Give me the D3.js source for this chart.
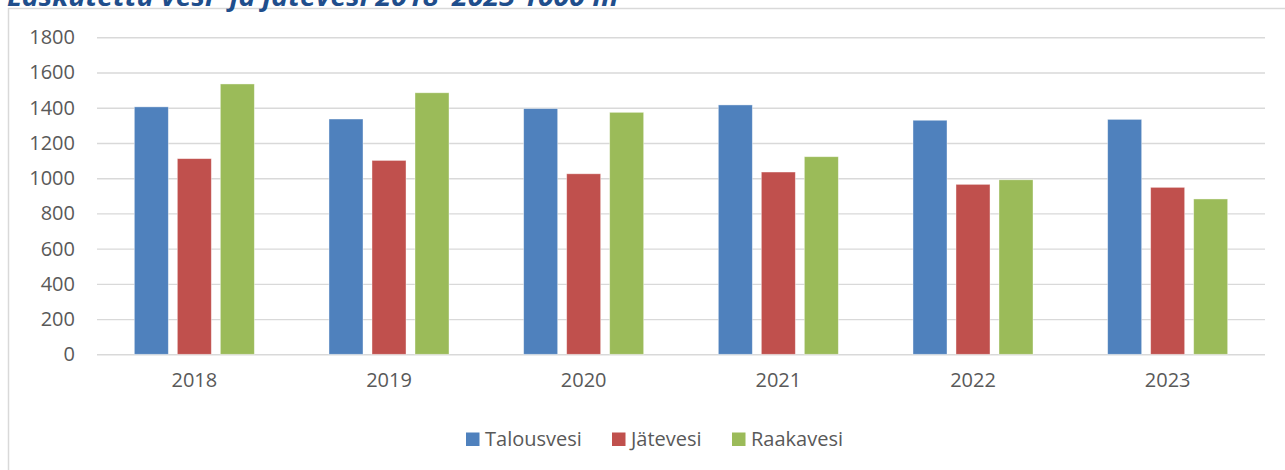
<!DOCTYPE html>
<html>
<head>
<meta charset="utf-8">
<script src="https://cdn.jsdelivr.net/npm/d3@7"></script>
<style>
  html, body { margin: 0; padding: 0; background: #fff; }
  svg { display: block; }
</style>
</head>
<body>
<svg id="chart" width="1285" height="470"></svg>
<script>
// data
const years = ["2018", "2019", "2020", "2021", "2022", "2023"];
const seriesNames = ["Talousvesi", "Jätevesi", "Raakavesi"];
const talousvesi = [1405, 1336, 1395, 1416, 1329, 1334];
const jatevesi   = [1111, 1101, 1025, 1035, 965, 948];
const raakavesi  = [1535, 1485, 1374, 1122, 991, 882];
const yTicks = [0, 200, 400, 600, 800, 1000, 1200, 1400, 1600, 1800];
const colors = ["#4F81BD", "#C0504D", "#9BBB59"];

const values = [talousvesi, jatevesi, raakavesi];
const rows = years.map((yr, i) => ({ year: yr, vals: seriesNames.map((s, k) => ({ key: s, k, v: values[k][i] })) }));

const W = 1285, H = 470;
const m = { top: 37.3, right: 20, bottom: 115.7, left: 97 };
const w = 1265 - m.left;
const h = 354.3 - m.top;

const svg = d3.select("#chart").attr("viewBox", `0 0 ${W} ${H}`);
const FONT = "'Open Sans', 'DejaVu Sans', sans-serif";

// chart frame (runs past the page edge like the source)
svg.append("rect")
    .attr("x", 8.5).attr("y", 8.5).attr("width", W + 20).attr("height", H + 20)
    .attr("fill", "#fff").attr("stroke", "#d9d9d9").attr("stroke-width", 1.5);

// title, mostly cut off at the top as in the source picture
svg.append("text")
    .attr("x", 7).attr("y", 6)
    .attr("fill", "#1F4E8C").attr("font-family", FONT)
    .attr("font-size", 26).attr("font-weight", "bold").attr("font-style", "italic")
    .attr("textLength", 622).attr("lengthAdjust", "spacingAndGlyphs")
    .text("Laskutettu vesi- ja jätevesi 2018–2023 1000 m³");

const g = svg.append("g").attr("transform", `translate(${m.left},${m.top})`);

const x = d3.scaleBand().domain(years).range([0, w]).padding(0);
const xs = d3.scaleBand().domain(seriesNames).range([0, x.bandwidth()])
    .paddingInner(0.209).paddingOuter(0.868);
const y = d3.scaleLinear().domain([0, 1800]).range([h, 0]);

// gridlines
g.append("g")
    .call(d3.axisLeft(y).tickValues(yTicks).tickSize(-w).tickFormat(""))
    .call(g => g.select(".domain").remove())
    .call(g => g.selectAll("line").attr("stroke", "#d9d9d9").attr("stroke-width", 1.4));

// bars
const grp = g.selectAll(".grp").data(rows).enter().append("g")
    .attr("transform", d => `translate(${x(d.year)},0)`);
grp.selectAll("rect").data(d => d.vals).enter().append("rect")
    .attr("x", d => xs(d.key))
    .attr("width", xs.bandwidth())
    .attr("y", d => y(d.v))
    .attr("height", d => h - y(d.v))
    .attr("fill", d => colors[d.k])
    .attr("stroke", "#ffffff").attr("stroke-opacity", 0.5).attr("stroke-width", 0.8);

// y axis labels
g.append("g")
    .call(d3.axisLeft(y).tickValues(yTicks).tickSize(0).tickPadding(22).tickFormat(d3.format("d")))
    .call(g => g.select(".domain").remove())
    .call(g => g.selectAll("text").attr("fill", "#595959").attr("font-size", 20).attr("font-family", FONT));

// x axis labels
g.append("g").attr("transform", `translate(0,${h})`)
    .call(d3.axisBottom(x).tickSize(0).tickPadding(19))
    .call(g => g.select(".domain").remove())
    .call(g => g.selectAll("text").attr("fill", "#595959").attr("font-size", 20).attr("font-family", FONT));

// legend
const legendX = [466, 612, 732];
const legend = svg.append("g");
seriesNames.forEach((s, i) => {
    legend.append("rect")
        .attr("x", legendX[i]).attr("y", 432.5).attr("width", 13.5).attr("height", 13.5)
        .attr("fill", colors[i]);
    legend.append("text")
        .attr("x", legendX[i] + 19).attr("y", 446)
        .attr("fill", "#595959").attr("font-size", 20).attr("font-family", FONT)
        .text(s);
});
</script>
</body>
</html>
